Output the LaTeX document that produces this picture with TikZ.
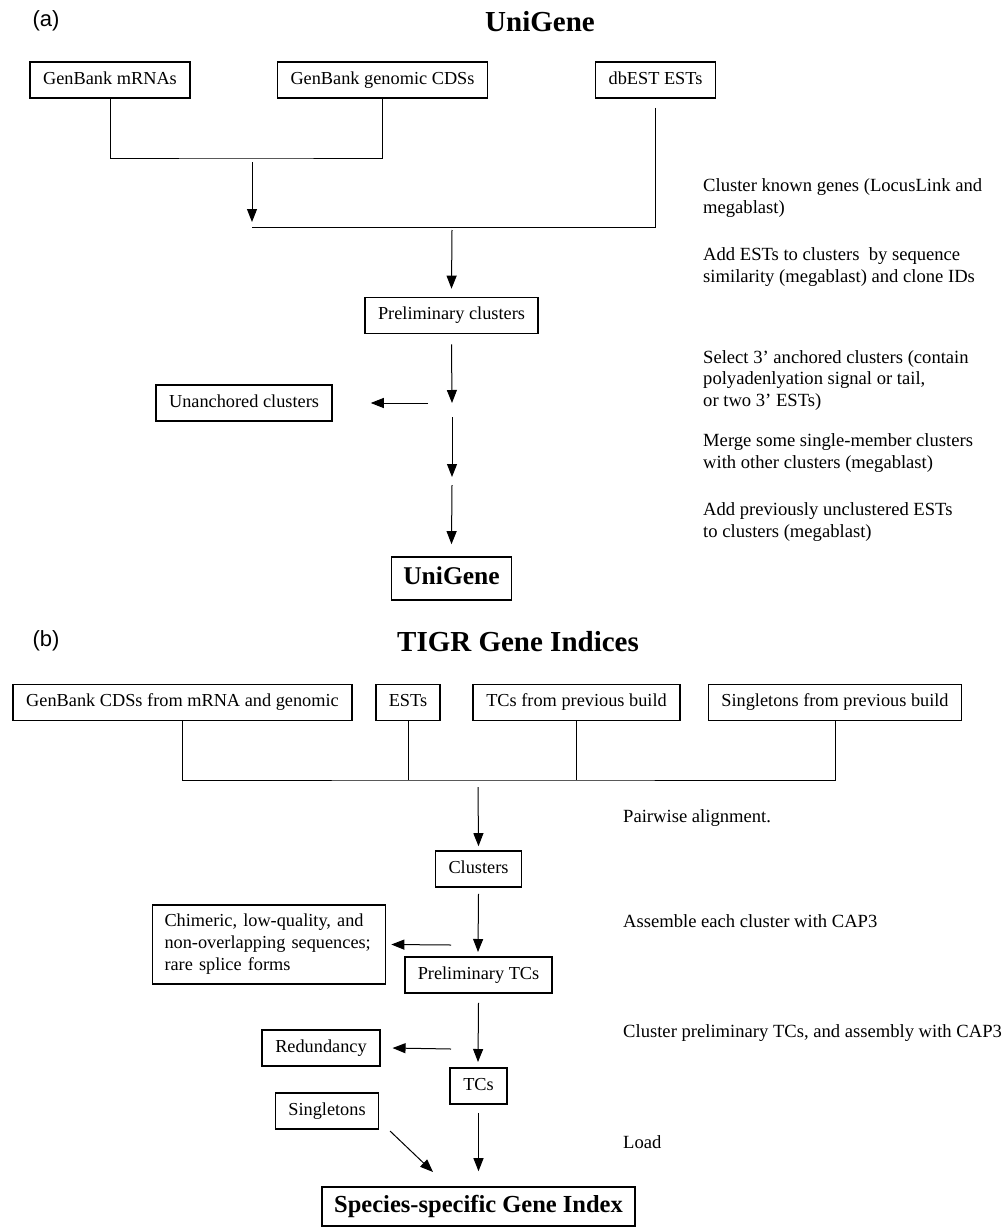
\documentclass[tikz,border=0pt]{standalone}
\usepackage{fontspec}
\setmainfont{Liberation Serif}
\setsansfont{Liberation Sans}
\usepackage{tikz}
\usetikzlibrary{arrows.meta}
\newcommand{\txtsize}{\fontsize{18.3}{21.5}\selectfont}
\tikzstyle{source} = [rectangle, draw=black, line width=1.6pt, inner xsep=13pt, inner ysep=0pt, minimum height=36pt, text height=12.5pt, text depth=4pt, font=\txtsize]
\tikzstyle{stage} = [source]
\tikzstyle{result} = [rectangle, draw=black, line width=1.6pt, inner xsep=12pt, inner ysep=0pt, minimum height=40pt, text height=17pt, text depth=5pt, font=\bfseries\fontsize{24.5}{28}\selectfont]
\tikzstyle{heading} = [anchor=base, inner sep=0pt, font=\bfseries\fontsize{29}{33}\selectfont]
\tikzstyle{panel} = [inner sep=0pt, font=\sffamily\fontsize{22}{26}\selectfont]
\tikzstyle{note} = [anchor=base west, align=left, inner sep=0pt, font=\fontsize{18.6}{21.5}\selectfont]
\tikzstyle{link} = [line width=1pt]
\tikzstyle{arrow} = [line width=1pt,-{Triangle[width=10pt,length=13pt]}]

\begin{document}
\begin{tikzpicture}[x=1pt,y=-1pt,node distance=60pt]
\useasboundingbox (0,0) rectangle (1005,1228);

% (a) UniGene
\node (labA) [panel] at (46,21) {(a)};
\node (titleA) [heading] at (540,32) {UniGene};
\node (mrna)   [source] at (110,80) {GenBank mRNAs};
\node (cds)    [source, right of=mrna, xshift=212.5pt] {GenBank genomic CDSs};
\node (dbest)  [source, right of=cds, xshift=213pt] {dbEST ESTs};
\node (prelim) [stage] at (451.5,315.5) {Preliminary clusters};
\node (unanch) [stage, left of=prelim, xshift=-147.5pt, yshift=-87.5pt] {Unanchored clusters};
\node (unigene) [result, below of=prelim, yshift=-203pt, minimum height=43pt, font=\bfseries\fontsize{25.5}{28}\selectfont] {UniGene};

% notes, placed at the baseline of their last line
\node (nA1) [note] at (703,213) {Cluster known genes (LocusLink and\\megablast)};
\node (nA2) [note] at (703,282) {Add ESTs to clusters\ \ by sequence\\similarity (megablast) and clone IDs};
\node (nA3) [note] at (703,406) {Select 3’ anchored clusters (contain\\polyadenlyation signal or tail,\\or two 3’ ESTs)};
\node (nA4) [note] at (703,468) {Merge some single-member clusters\\with other clusters (megablast)};
\node (nA5) [note] at (703,537) {Add previously unclustered ESTs\\to clusters (megablast)};

\coordinate (barA) at (246,158);
\coordinate (inA) at (252,162);
\coordinate (outA) at (252,222);
\coordinate (joinA) at (252,227);
\coordinate (mergeA) at (452,230);
\coordinate (selA) at (452,403);
\coordinate (addA) at (452,417);
\coordinate (mrgA) at (452,477);
\coordinate (finA) at (452,485);

\draw [link] (mrna.south) |- (barA) -| (cds.south);
\draw [arrow] (inA) -- (outA);
\draw [link] ([yshift=-9pt]dbest.south) |- (joinA);
\draw [arrow] (mergeA) -- ([yshift=8pt]prelim.north);
\draw [arrow] ([yshift=-10pt]prelim.south) -- (selA);
\draw [arrow] ([xshift=-24pt]selA) -- ([xshift=38pt]unanch.east);
\draw [arrow] (addA) -- (mrgA);
\draw [arrow] (finA) -- ([yshift=12pt]unigene.north);

% (b) TIGR Gene Indices
\node (labB) [panel] at (46,641) {(b)};
\node (titleB) [heading] at (518,651) {TIGR Gene Indices};
\node (gbcds)    [source] at (182.5,702.5) {GenBank CDSs from mRNA and genomic};
\node (ests)     [source, right of=gbcds, xshift=165.5pt] {ESTs};
\node (tcprev)   [source, right of=ests, xshift=108.5pt] {TCs from previous build};
\node (singprev) [source, right of=tcprev, xshift=198.5pt] {Singletons from previous build};
\node (clusters) [stage] at (478.5,869) {Clusters};
\node (prelimtc) [stage, below of=clusters, yshift=-46pt] {Preliminary TCs};
\node (tcs)      [stage, below of=prelimtc, yshift=-51pt] {TCs};
\node (gindex)   [result, below of=tcs, yshift=-60.5pt, minimum height=39pt] {Species-specific Gene Index};
\node (chim)     [stage, left of=prelimtc, xshift=-149.5pt, yshift=30.5pt, text width=209pt, align=left, minimum height=79pt, inner xsep=12pt, text height=, text depth=, font=\fontsize{18.3}{22}\selectfont] {Chimeric, low-quality, and\\non-overlapping sequences;\\rare splice forms};
\node (redund)   [stage, left of=tcs, xshift=-97.5pt, yshift=38pt] {Redundancy};
\node (singl)    [stage, left of=tcs, xshift=-91.5pt, yshift=-25pt] {Singletons};

\node (nB1) [note] at (623,822) {Pairwise alignment.};
\node (nB2) [note] at (623,927) {Assemble each cluster with CAP3};
\node (nB3) [note] at (623,1037) {Cluster preliminary TCs, and assembly with CAP3};
\node (nB4) [note] at (623,1148) {Load};

\coordinate (barB) at (478,780);
\coordinate (mergeB) at (478,787);
\coordinate (asmB) at (478,952);
\coordinate (redB) at (478,1062);
\coordinate (dropB) at (451,945);
\coordinate (dupB) at (451,1049);
\coordinate (singB) at (390,1131);
\coordinate (loadB) at (433,1172);

\draw [link] (gbcds.south) |- (barB) -| (singprev.south);
\draw [link] (ests.south) -- (ests.south |- barB);
\draw [link] (tcprev.south) -- (tcprev.south |- barB);
\draw [arrow] (mergeB) -- ([yshift=4pt]clusters.north);
\draw [arrow] ([yshift=-6pt]clusters.south) -- (asmB);
\draw [arrow] (dropB) -- ([xshift=5pt]chim.east);
\draw [arrow] ([yshift=-9pt]prelimtc.south) -- (redB);
\draw [arrow] (dupB) -- ([xshift=12pt]redund.east);
\draw [arrow] ([yshift=-8pt]tcs.south) -- ([yshift=15pt]gindex.north);
\draw [arrow] (singB) -- (loadB);
\end{tikzpicture}
\end{document}
